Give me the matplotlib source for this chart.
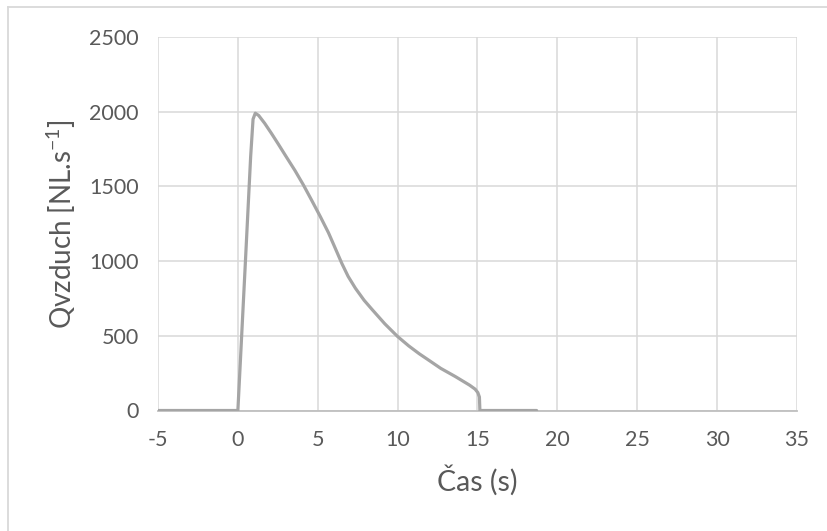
import matplotlib.pyplot as plt
from matplotlib.lines import Line2D

# time (s) and air flow (NL/s)
cas = [-5, 0, 0.45, 0.8, 0.95, 1.09, 1.3, 1.68, 2.1, 2.52, 3.0, 3.57, 4.1, 4.62,
       5.15, 5.67, 6.1, 6.51, 6.9, 7.36, 7.9, 8.41, 9.2, 9.99, 10.7, 11.35,
       12.0, 12.7, 13.6, 14.5, 14.85, 15.02, 15.12, 15.15, 18.7]
qvzduch = [0, 0, 950, 1700, 1950, 1990, 1975, 1922, 1855, 1785, 1703, 1607, 1510, 1407,
           1300, 1190, 1085, 984, 898, 818, 738, 675, 580, 496, 432, 380,
           333, 282, 228, 170, 143, 120, 90, 0, 0]

xticks = [-5, 0, 5, 10, 15, 20, 25, 30, 35]
yticks = [0, 500, 1000, 1500, 2000, 2500]

plt.rcParams['font.family'] = ['Lato', 'DejaVu Sans']
plt.rcParams['axes.unicode_minus'] = False
plt.rcParams['mathtext.fontset'] = 'custom'
plt.rcParams['mathtext.rm'] = 'Lato'
plt.rcParams['mathtext.it'] = 'Lato'

fig = plt.figure(figsize=(8.28, 5.31), dpi=100)
ax = fig.add_axes([158/828, 1 - 410.5/531, (797 - 158)/828, (410.5 - 37)/531])

ax.plot(cas, qvzduch, color='#A5A5A5', lw=2.3, solid_joinstyle='round',
        solid_capstyle='round', zorder=3)

ax.set_xlim(-5, 35)
ax.set_ylim(0, 2500)
ax.set_xticks(xticks)
ax.set_yticks(yticks)
ax.grid(True, color='#D9D9D9', lw=1.1)
ax.set_axisbelow(True)
for s in ['top', 'right', 'left']:
    ax.spines[s].set_visible(False)
ax.spines['bottom'].set_color('#BFBFBF')
ax.spines['bottom'].set_linewidth(1.3)
ax.tick_params(length=0, labelsize=15.5, colors='#595959')
ax.tick_params(axis='x', pad=14)
ax.tick_params(axis='y', pad=14)

ax.set_xlabel('Čas (s)', fontsize=20.5, color='#595959', labelpad=11)
ax.set_ylabel('Qvzduch [NL.s$^{\\mathrm{-1}}$]', fontsize=20, color='#595959', labelpad=8)

# chart border (only top and left edges show in the reference)
fig.add_artist(Line2D([8/828, 8/828], [0, 1 - 7/531], color='#D9D9D9', lw=1.3))
fig.add_artist(Line2D([8/828, 1], [1 - 7/531, 1 - 7/531], color='#D9D9D9', lw=1.3))

fig.savefig('out.png', dpi=100)
